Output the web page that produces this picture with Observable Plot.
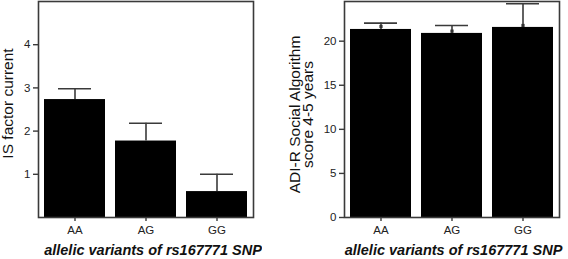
<!DOCTYPE html>
<html>
<head>
<meta charset="utf-8">
<script src="https://cdn.jsdelivr.net/npm/d3@7"></script>
<script src="https://cdn.jsdelivr.net/npm/@observablehq/plot@0.6"></script>
<style>
  html, body { margin: 0; padding: 0; background: #fff; }
  #wrap { position: relative; width: 568px; height: 259px; overflow: hidden; }
  #left { position: absolute; left: 0; top: 0; }
  #right { position: absolute; left: 262px; top: 0; }
  svg { font-family: "Liberation Sans", Arial, Helvetica, sans-serif; }
</style>
</head>
<body>
<div id="wrap"><div id="left"></div><div id="right"></div></div>
<script>
const categories = ["AA", "AG", "GG"];
const isMean = [2.73, 1.77, 0.60];
const isErrTop = [2.98, 2.18, 1.00];
const adiMean = [21.33, 20.88, 21.56];
const adiErrTop = [22.05, 21.78, 24.25];
const adiDot = [21.67, 21.14, 21.78];
const isTicks = [1, 2, 3, 4];
const adiTicks = [0, 5, 10, 15, 20];
const xTitle = "allelic variants of rs167771 SNP";
const leftYTitle = "IS factor current";
const rightYTitle = "ADI-R Social Algorithm\nscore 4-5 years";

const leftData = categories.map((c, i) => ({cat: c, mean: isMean[i], err: isErrTop[i]}));
const rightData = categories.map((c, i) => ({cat: c, mean: adiMean[i], err: adiErrTop[i], dot: adiDot[i]}));

const lineColor = "#3a3a3a";

function panel({data, width, marginLeft, yDomain, yTicks, yTitle, yTitleDx, yTitleDy, xTitleDx, dots}) {
  const marks = [
    Plot.barY(data, {x: "cat", y: "mean", fill: "black"}),
    Plot.ruleX(data, {x: "cat", y1: "mean", y2: "err", stroke: lineColor, strokeWidth: 1.6}),
    Plot.tickY(data, {x: "cat", y: "err", stroke: lineColor, strokeWidth: 1.6, inset: 14}),
  ];
  if (dots) marks.push(Plot.dot(data, {x: "cat", y: "dot", symbol: "square", r: 1.8, fill: "#333", stroke: null}));
  marks.push(
    Plot.frame({stroke: lineColor, strokeWidth: 1.6}),
    Plot.axisY({ticks: yTicks, tickFormat: d3.format("d"), tickSize: 5, tickPadding: 3, fontSize: 11.5, label: null, stroke: lineColor, strokeWidth: 1.4, color: "#222"}),
    Plot.axisX({tickSize: 4, tickPadding: 4, fontSize: 11.5, label: null, stroke: lineColor, strokeWidth: 1.4, color: "#222"}),
    Plot.text([xTitle], {frameAnchor: "bottom", dy: 33, dx: xTitleDx, fontSize: 14.5, fontWeight: "bold", fontStyle: "italic", fill: "#111", lineAnchor: "middle", textAnchor: "middle"}),
    Plot.text([yTitle], {frameAnchor: "left", rotate: -90, dx: yTitleDx, dy: yTitleDy, fontSize: 15.5, fill: "#111", lineAnchor: "middle", textAnchor: "middle", lineHeight: 0.82})
  );
  return Plot.plot({
    width, height: 259,
    marginLeft, marginRight: 9, marginTop: 1, marginBottom: 42,
    x: {domain: categories, paddingInner: 0.135, paddingOuter: 0.07},
    y: {domain: yDomain},
    marks
  });
}

document.getElementById("left").append(panel({
  data: leftData, width: 262, marginLeft: 38, yDomain: [0, 5], yTicks: isTicks,
  yTitle: leftYTitle, yTitleDx: -30, yTitleDy: -6, xTitleDx: 7, dots: false
}));
document.getElementById("right").append(panel({
  data: rightData, width: 306, marginLeft: 82, yDomain: [0, 24.5], yTicks: adiTicks,
  yTitle: rightYTitle, yTitleDx: -42, yTitleDy: 5, xTitleDx: 1.5, dots: true
}));
</script>
</body>
</html>
